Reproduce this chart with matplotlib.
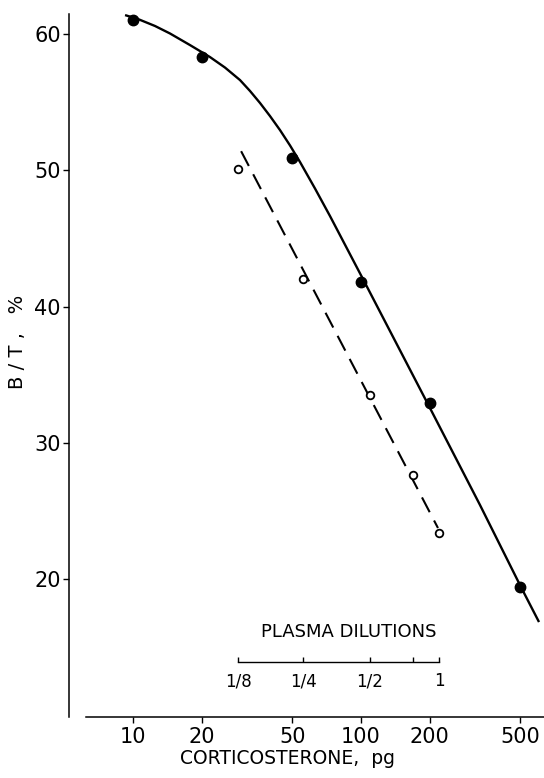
import matplotlib
matplotlib.use("Agg")
import matplotlib.pyplot as plt
from matplotlib.ticker import FixedLocator, NullLocator

# ---- data ----
std_x = [10, 20, 50, 100, 200, 500]
std_y = [61.0, 58.3, 50.9, 41.8, 32.9, 19.4]

curve_x = [9.23, 10.52, 12.49, 14.53, 17.78, 21.76, 25.32, 29.47, 32.60, 36.06, 39.89,
           44.13, 48.84, 54.0, 62.85, 73.12, 103.1, 202.8, 332.6, 503.1, 603.6]
curve_y = [61.39, 61.10, 60.59, 60.04, 59.19, 58.31, 57.54, 56.62, 55.82, 54.94, 53.98,
           52.95, 51.82, 50.61, 48.66, 46.64, 41.87, 32.40, 25.43, 19.41, 16.84]

plasma_x = [28.9, 55.7, 109.3, 168.7, 220.6]
plasma_y = [50.1, 42.0, 33.5, 27.6, 23.4]

dash_x = [29.8, 217.6]
dash_y = [51.4, 23.74]

dilution_labels = ["1/8", "1/4", "1/2", "", "1"]

x_ticks = [10, 20, 50, 100, 200, 500]
x_ticklabels = ["10", "20", "50", "100", "200", "500"]
y_ticks = [20, 30, 40, 50, 60]

# ---- figure ----
W, H = 544, 778
fig = plt.figure(figsize=(W / 100, H / 100), dpi=100)
ax = fig.add_axes([69 / W, (H - 717) / H, (544 - 69) / W, (717 - 14) / H])
ax.set_xscale("log")
ax.set_xlim(5.24, 634.8)
ax.set_ylim(9.87, 61.47)

for s in ("top", "right"):
    ax.spines[s].set_visible(False)
ax.spines["left"].set_linewidth(1.1)
ax.spines["bottom"].set_linewidth(1.1)
ax.spines["bottom"].set_bounds(6.22, 634.8)

ax.xaxis.set_major_locator(FixedLocator(x_ticks))
ax.xaxis.set_minor_locator(NullLocator())
ax.set_xticklabels(x_ticklabels)
ax.yaxis.set_major_locator(FixedLocator(y_ticks))
ax.tick_params(axis="both", which="major", direction="out", length=4, width=1.0,
               labelsize=15, colors="black")
ax.tick_params(axis="x", pad=3)
ax.tick_params(axis="y", pad=2)

# standard curve
ax.plot(curve_x, curve_y, color="black", lw=1.7, solid_capstyle="butt",
        solid_joinstyle="round", zorder=2)
ax.plot(std_x, std_y, "o", color="black", ms=7.5, zorder=3)

# plasma dilution line
ax.plot(dash_x, dash_y, color="black", lw=1.5, dashes=(8, 4.5), zorder=2)
ax.plot(plasma_x, plasma_y, "o", mfc="white", mec="black", mew=1.3, ms=5.5, zorder=3)

# plasma dilutions scale
base = 13.91
ax.plot([plasma_x[0], plasma_x[-1]], [base, base], color="black", lw=1.0)
ax.vlines(plasma_x, base, base + 0.37, color="black", lw=1.0)
for xv, lab in zip(plasma_x, dilution_labels):
    if lab:
        ax.text(xv, 12.5, lab, ha="center", va="center", fontsize=12)
ax.text(88.6, 16.1, "PLASMA DILUTIONS", ha="center", va="center", fontsize=13)

ax.set_xlabel("CORTICOSTERONE,  pg", fontsize=13.5)
ax.xaxis.set_label_coords((288 - 69) / 475, (717 - 749) / 703)
ax.set_ylabel("B / T ,   %", fontsize=14, va="center")
ax.yaxis.set_label_coords((18 - 69) / 475, (717 - 342) / 703)

fig.savefig("out.png", dpi=100)
